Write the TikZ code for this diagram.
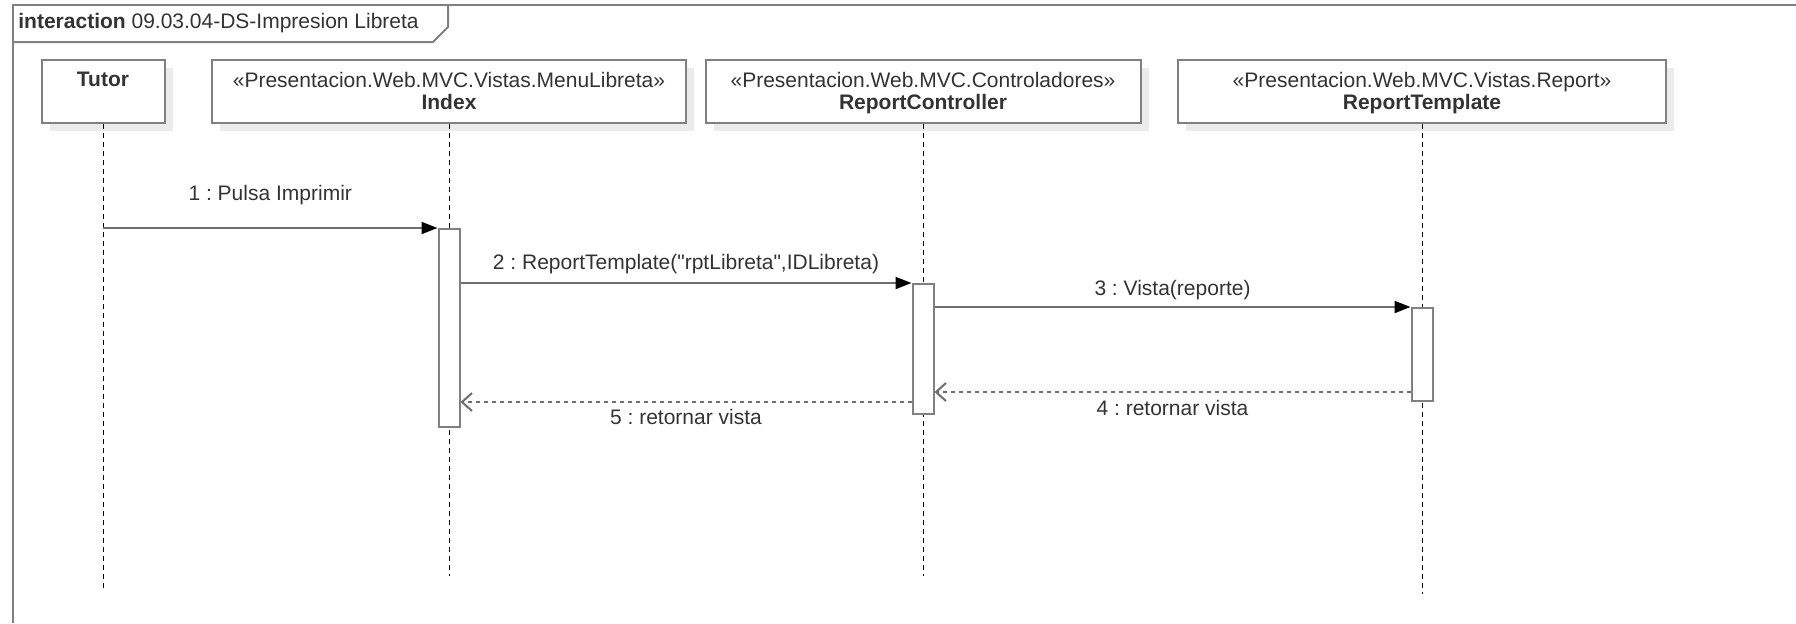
\documentclass[tikz,border=0pt]{standalone}
\usepackage{fontspec}
\setmainfont{Liberation Sans}[Ligatures=TeXOff]
\usetikzlibrary{arrows.meta,positioning,shadows}
\definecolor{framegray}{HTML}{808080}
\definecolor{linegray}{HTML}{6E6E6E}
\definecolor{textgray}{HTML}{333333}
\frenchspacing
\begin{document}
\begin{tikzpicture}[x=0.5pt,y=-0.5pt,
  every node/.style={font=\fontsize{10.5}{11}\selectfont,text=textgray},
  lifebox/.style={draw=framegray,line width=1pt,fill=white,inner sep=0pt,minimum height=31.5pt,
    drop shadow={shadow xshift=4pt,shadow yshift=-4pt,fill=black!8,opacity=1}},
  boxlabel/.style={anchor=north,align=center,inner sep=0pt},
  lifeline/.style={black,line width=0.5pt,dash pattern=on 2.5pt off 2pt},
  actbox/.style={draw=framegray,line width=1pt,fill=white,minimum width=10.5pt,inner sep=0pt},
  callmsg/.style={linegray,line width=1pt,-{Triangle[length=8pt,width=6pt,color=black]}},
  retmsg/.style={linegray,line width=1pt,dash pattern=on 2pt off 2pt,-{Straight Barb[length=5pt,width=9pt]}},
  msglabel/.style={midway,inner sep=0pt,text height=0.75em,text depth=0.21em}]
\useasboundingbox (0,0) rectangle (1796,623);
% frame
\draw[framegray,line width=1pt] (13,623) -- (13,5) -- (1796,5);
\draw[framegray,line width=1pt] (13,42) -- (433,42) -- (448,27) -- (448,5);
\node[anchor=west,inner sep=0pt] (title) at (18,23) {\textbf{interaction} 09.03.04-DS-Impresion Libreta};
% lifeline heads
\node[lifebox,minimum width=61.5pt] (tutor) at (103,91) {};
\node[lifebox,minimum width=237pt] (index) at (449,91) {};
\node[lifebox,minimum width=217.5pt] (ctrl) at (923,91) {};
\node[lifebox,minimum width=244pt] (tmpl) at (1422,91) {};
\node[boxlabel] (tutorlbl) at (103,72) {\textbf{Tutor}};
\node[boxlabel] (indexlbl) at (449,72) {«Presentacion.Web.MVC.Vistas.MenuLibreta»\\\textbf{Index}};
\node[boxlabel] (ctrllbl) at (923,72) {«Presentacion.Web.MVC.Controladores»\\\textbf{ReportController}};
\node[boxlabel] (tmpllbl) at (1422,72) {«Presentacion.Web.MVC.Vistas.Report»\\\textbf{ReportTemplate}};
% lifelines
\coordinate (tutorend) at (103,588);
\coordinate (indexend) at (449,576);
\coordinate (ctrlend) at (923,576);
\coordinate (tmplend) at (1422,594);
\draw[lifeline] (tutor.south) -- (tutorend);
\draw[lifeline] (index.south) -- (indexend);
\draw[lifeline] (ctrl.south) -- (ctrlend);
\draw[lifeline] (tmpl.south) -- (tmplend);
% activations
\node[actbox,minimum height=99pt] (actindex) at (449,328) {};
\node[actbox,minimum height=65pt] (actctrl) at (923,349) {};
\node[actbox,minimum height=46.5pt] (acttmpl) at (1422,354.5) {};
% messages
\draw[callmsg] (tutor.south |- actindex.north) -- (actindex.north west)
  node[msglabel,above=11pt] {1 : Pulsa Imprimir};
\draw[callmsg] (actindex.east |- actctrl.north) -- (actctrl.north west)
  node[msglabel,above=4pt] {2 : ReportTemplate("rptLibreta",IDLibreta)};
\draw[callmsg] (actctrl.east |- acttmpl.north) -- (acttmpl.north west)
  node[msglabel,above=3pt] {3 : Vista(reporte)};
\coordinate (ret4) at ([yshift=5pt]acttmpl.south west);
\draw[retmsg] (ret4) -- (actctrl.east |- ret4)
  node[msglabel,below=3.5pt] {4 : retornar vista};
\draw[retmsg] (actctrl.west |- acttmpl.south) -- (actindex.east |- acttmpl.south)
  node[msglabel,below=3pt] {5 : retornar vista};
\end{tikzpicture}
\end{document}
